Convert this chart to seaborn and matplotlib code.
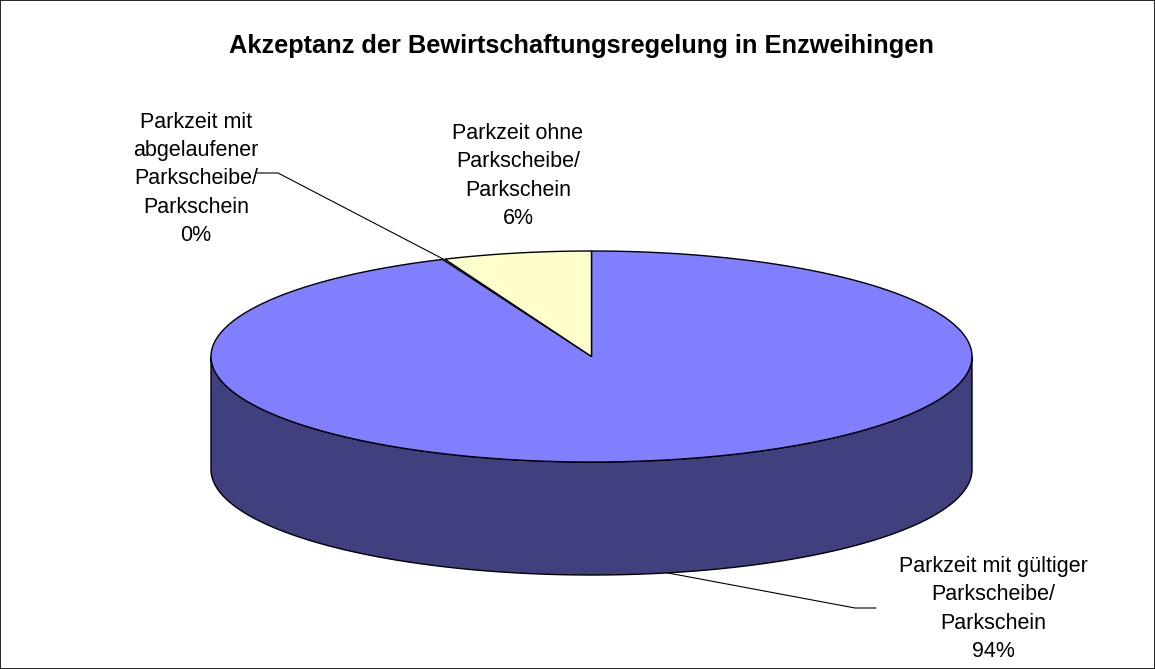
import numpy as np
import matplotlib
matplotlib.use("Agg")
import matplotlib.pyplot as plt
import seaborn as sns

# -------------------- Daten --------------------
titel = "Akzeptanz der Bewirtschaftungsregelung in Enzweihingen"
kategorien = [
    "Parkzeit mit gültiger\nParkscheibe/\nParkschein",
    "Parkzeit mit\nabgelaufener\nParkscheibe/\nParkschein",
    "Parkzeit ohne\nParkscheibe/\nParkschein",
]
anteile = [93.6, 0.1, 6.3]
farben_oben = ["#8080FF", "#993366", "#FFFFCC"]
farben_seite = ["#40407F", "#4C1933", "#7F7F66"]

# -------------------- Stil --------------------
sns.set_style("white")
plt.rcParams['font.family'] = ['Liberation Sans', 'DejaVu Sans']
plt.rcParams['text.color'] = 'black'

W, H = 1155, 669
fig = plt.figure(figsize=(W / 100, H / 100), dpi=100)
ax = fig.add_axes([0, 0, 1, 1])
ax.set_xlim(0, W)
ax.set_ylim(H, 0)
ax.set_xticks([])
ax.set_yticks([])
for s in ax.spines.values():
    s.set_visible(True)
    s.set_color("black")
    s.set_linewidth(1.2)

# Geometrie der Torte (Pixelraum)
cx, cy = 591.5, 356.5
a, b = 380.5, 105.5
tiefe = 113


def rand(t, dy=0.0):
    t = np.radians(t)
    return cx + a * np.cos(t), cy - b * np.sin(t) + dy


# Winkel: Start oben, im Uhrzeigersinn
grenzen = 90 - np.concatenate([[0], np.cumsum(anteile)]) * 3.6
segmente = [(grenzen[i + 1], grenzen[i]) for i in range(len(anteile))]

# Seitenflächen (nur vordere Hälfte sichtbar)
for (lo, hi), fc in zip(segmente, farben_seite):
    for k in (-1, 0, 1):
        s0, s1 = max(lo, 180 + 360 * k), min(hi, 360 + 360 * k)
        if s1 <= s0:
            continue
        t = np.linspace(s0, s1, 200)
        x1, y1 = rand(t)
        x2, y2 = rand(t[::-1], tiefe)
        ax.fill(np.r_[x1, x2], np.r_[y1, y2], facecolor=fc,
                edgecolor="black", linewidth=1.0, zorder=2)

# Deckfläche
for (lo, hi), fc, v in zip(segmente, farben_oben, anteile):
    if v < 0.5:
        continue
    t = np.linspace(lo, hi, 400)
    x, y = rand(t)
    ax.fill(np.r_[cx, x, cx], np.r_[cy, y, cy], facecolor=fc,
            edgecolor="black", linewidth=1.0, zorder=3)

# Beschriftungen
txt = dict(fontsize=15.5, ha="center", va="center", multialignment="center",
           linespacing=1.46, color="black", zorder=5)
label_pos = [(993, 609), (196, 179), (518, 176)]
knick = [[(855, 608), (876, 608)], [(278, 173), (257, 173)], None]

for (lo, hi), name, v, pos, kn in zip(segmente, kategorien, anteile, label_pos, knick):
    ax.text(pos[0], pos[1], f"{name}\n{v:.0f}%", **txt)
    if kn is None:
        continue
    mitte = (lo + hi) / 2
    dy = tiefe if np.sin(np.radians(mitte)) < 0 else 0
    px, py = rand(mitte, dy)
    xs = [px] + [p[0] for p in kn]
    ys = [py] + [p[1] for p in kn]
    ax.plot(xs, ys, color="black", linewidth=0.8, zorder=4)

ax.text(581.5, 53, titel, fontsize=18.3, fontweight="bold",
        ha="center", va="baseline", color="black")

fig.savefig("out.png", dpi=100)
